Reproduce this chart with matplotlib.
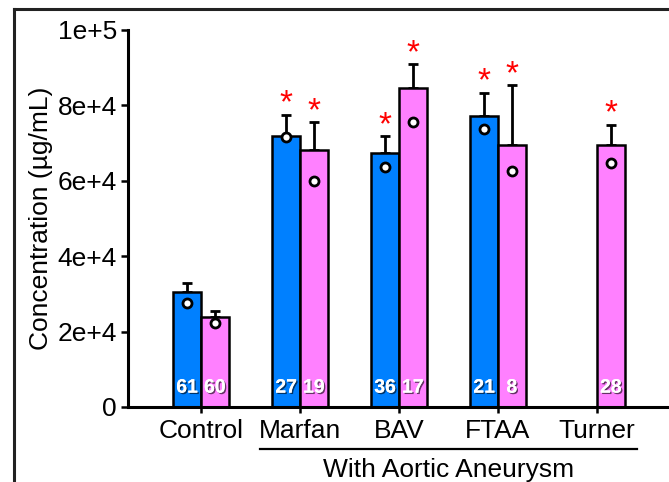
import matplotlib
matplotlib.use("Agg")
import matplotlib.pyplot as plt
import matplotlib.patheffects as pe
from matplotlib.lines import Line2D
import numpy as np

plt.rcParams['font.family'] = ['Liberation Sans', 'DejaVu Sans']

groups = ["Control", "Marfan", "BAV", "FTAA", "Turner"]

# blue series (means, error tops, individual marker, n)
blue_mean = [30500, 71900, 67500, 77200, np.nan]
blue_err = [2400, 5600, 4400, 6200, np.nan]
blue_dot = [27600, 71700, 63700, 73800, np.nan]
blue_n = ["61", "27", "36", "21", ""]
blue_sig = [False, True, True, True, False]

# pink series
pink_mean = [23900, 68200, 84700, 69400, 69400]
pink_err = [1600, 7400, 6200, 15900, 5500]
pink_dot = [22300, 59900, 75700, 62600, 64600]
pink_n = ["60", "19", "17", "8", "28"]
pink_sig = [False, True, True, True, True]

BLUE = "#0080ff"
PINK = "#ff80ff"

fig = plt.figure(figsize=(6.69, 4.82), dpi=100)
W, H = 669, 482
ax = fig.add_axes([128 / W, 1 - 407 / H, 1 - 128 / W, (407 - 30) / H])

x = np.arange(len(groups))
bw = 0.28

shadow = [pe.withSimplePatchShadow(offset=(1, -1), shadow_rgbFace="k", alpha=0.6), pe.Normal()]

for xs, mean, err, dot, ns, sig, col in [
    (x - bw / 2, blue_mean, blue_err, blue_dot, blue_n, blue_sig, BLUE),
    (x + bw / 2, pink_mean, pink_err, pink_dot, pink_n, pink_sig, PINK),
]:
    ax.bar(xs, mean, width=bw, color=col, edgecolor="black", linewidth=1.8, zorder=2)
    ax.errorbar(xs, mean, yerr=[np.zeros(len(err)), err], fmt="none", ecolor="black",
                elinewidth=2, capsize=3.5, capthick=2, zorder=1)
    ax.plot(xs, dot, "o", ms=6.5, mfc="white", mec="black", mew=2, zorder=3)
    for xi, n, m, e, s in zip(xs, ns, mean, err, sig):
        if n:
            ax.text(xi, 5000, n, ha="center", va="center", color="white", fontsize=14,
                    fontweight="bold", path_effects=shadow, zorder=4)
        if s:
            ax.annotate("*", (xi, m + e), xytext=(0, 1.5), textcoords="offset points",
                        ha="center", va="baseline", color="red", fontsize=24, zorder=4)

ax.set_xlim((128 - 201) / 99, (669 - 201) / 99)
ax.set_ylim(0, 100000)
ax.set_yticks([0, 20000, 40000, 60000, 80000, 100000])
ax.set_yticklabels(["0", "2e+4", "4e+4", "6e+4", "8e+4", "1e+5"])
ax.set_xticks(x)
ax.set_xticklabels(groups)
ax.tick_params(axis="both", labelsize=19, width=1.8, color="black")
ax.tick_params(axis="y", length=5, pad=3)
ax.tick_params(axis="x", length=4, pad=5)
for side in ["top", "right"]:
    ax.spines[side].set_visible(False)
for side in ["left", "bottom"]:
    ax.spines[side].set_linewidth(2.2)
ax.set_ylabel("Concentration (µg/mL)", fontsize=19)
ax.yaxis.set_label_coords((53 - 128) / (W - 128), 0.5)

# group bracket under the aneurysm groups
trans = ax.get_xaxis_transform()
ax.plot([0.6, 4.4], [-0.111, -0.111], color="black", lw=1.6, transform=trans, clip_on=False)
ax.text(2.5, -0.168, "With Aortic Aneurysm", ha="center", va="center", fontsize=19,
        transform=trans)

# outer frame
fig.add_artist(Line2D([14 / W, 1], [1 - 9 / H, 1 - 9 / H], color="#222222", lw=2.2))
fig.add_artist(Line2D([14 / W, 14 / W], [0, 1 - 9 / H], color="#222222", lw=2.2))

fig.savefig("out.png", dpi=100)
